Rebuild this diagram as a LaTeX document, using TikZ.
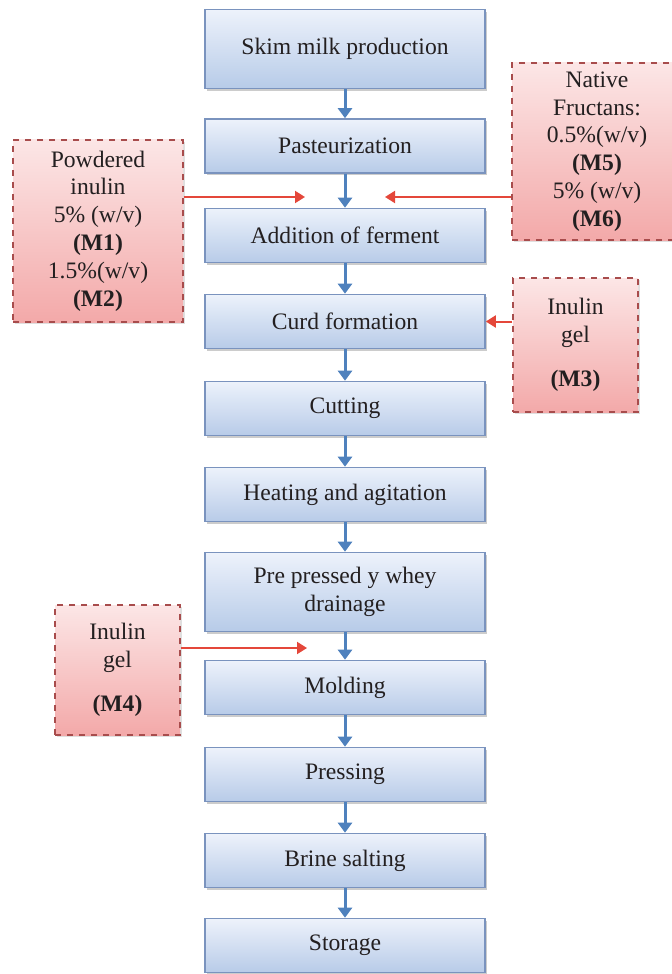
\documentclass[tikz,border=0pt]{standalone}
\usepackage{fontspec}
\setmainfont{Liberation Serif}
\usetikzlibrary{arrows.meta,shadows}
\definecolor{Ink}{HTML}{231F20}
\definecolor{BoxTop}{HTML}{EDF2FB}
\definecolor{BoxBot}{HTML}{B7CBE8}
\definecolor{BoxLine}{HTML}{7A93BE}
\definecolor{Flow}{HTML}{4F81BD}
\definecolor{PinkTop}{HTML}{FCE6E6}
\definecolor{PinkBot}{HTML}{F3A9A9}
\definecolor{PinkLine}{HTML}{A84C4C}
\definecolor{Feed}{HTML}{E4473A}
\tikzset{
  txt/.style={font=\fontsize{11.8}{13.9}\selectfont,text=Ink,align=center},
  stage/.style={txt,rectangle,draw=BoxLine,line width=.8pt,top color=BoxTop,bottom color=BoxBot,
    minimum width=140pt,minimum height=27pt,inner sep=2pt,
    drop shadow={shadow xshift=1.2pt,shadow yshift=-1.2pt,fill=black!40}},
  tall/.style={stage,minimum height=39.5pt},
  additive/.style={txt,rectangle,draw=PinkLine,dashed,line width=.7pt,top color=PinkTop,bottom color=PinkBot,
    inner sep=2pt,drop shadow={shadow xshift=1pt,shadow yshift=-1pt,fill=black!25}},
  flow/.style={-{Triangle[width=7pt,length=5pt]},line width=1.5pt,draw=Flow},
  feed/.style={-{Triangle[width=6pt,length=5pt]},line width=1pt,draw=Feed}
}
\begin{document}
\begin{tikzpicture}[x=.5pt,y=-.5pt]
  \useasboundingbox (0,0) rectangle (672,974);
  % process stages
  \node[tall]  (milk)  at (345,49)    {Skim milk production};
  \node[stage] (past)  at (345,146)   {Pasteurization};
  \node[stage] (ferm)  at (345,235.5) {Addition of ferment};
  \node[stage] (curd)  at (345,321.5) {Curd formation};
  \node[stage] (cut)   at (345,408.5) {Cutting};
  \node[stage] (heat)  at (345,494.5) {Heating and agitation};
  \node[tall]  (drain) at (345,592)   {Pre pressed y whey\\drainage};
  \node[stage] (mold)  at (345,687.5) {Molding};
  \node[stage] (press) at (345,774.5) {Pressing};
  \node[stage] (brine) at (345,860.5) {Brine salting};
  \node[stage] (store) at (345,945.5) {Storage};
  \foreach \a/\b in {milk/past,past/ferm,ferm/curd,curd/cut,cut/heat,heat/drain,drain/mold,mold/press,press/brine,brine/store}
    \draw[flow] (\a) -- (\b);
  % inulin additions
  \node[additive,minimum width=85pt,minimum height=91pt] (m12) at (98,231)
    {Powdered\\inulin\\5\% (w/v)\\\textbf{(M1)}\\1.5\%(w/v)\\\textbf{(M2)}};
  \node[additive,minimum width=85pt,minimum height=88.5pt] (m56) at (597,151.5)
    {Native\\Fructans:\\0.5\%(w/v)\\\textbf{(M5)}\\5\% (w/v)\\\textbf{(M6)}};
  \node[additive,minimum width=62.5pt,minimum height=67pt] (m3) at (575.5,345)
    {Inulin\\gel\\[8pt]\textbf{(M3)}};
  \node[additive,minimum width=62.5pt,minimum height=65pt] (m4) at (117.5,670)
    {Inulin\\gel\\[8pt]\textbf{(M4)}};
  \coordinate (in12) at (305,197);
  \coordinate (in56) at (385,197);
  \coordinate (in4)  at (307,648);
  \draw[feed] (m12.east |- in12) -- (in12);
  \draw[feed] (m56.west |- in56) -- (in56);
  \draw[feed] (m3.west |- curd) -- (curd.east);
  \draw[feed] (m4.east |- in4) -- (in4);
\end{tikzpicture}
\end{document}
